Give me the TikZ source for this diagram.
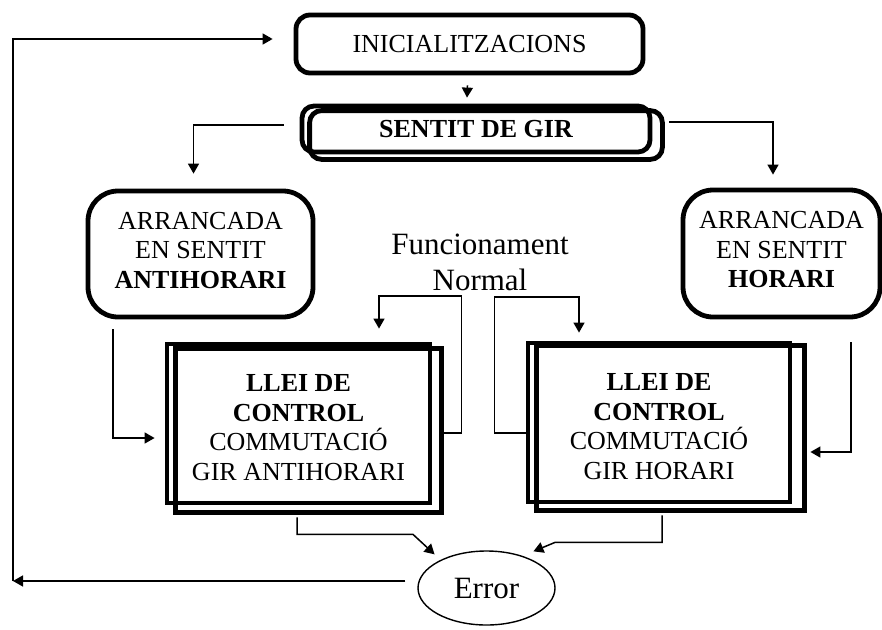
\documentclass[tikz,border=0pt]{standalone}
\usepackage{fontspec}
\setmainfont{Liberation Serif}
\usetikzlibrary{positioning}
\usetikzlibrary{calc}
\usetikzlibrary{arrows.meta}
\usetikzlibrary{shapes.geometric}

\tikzset{
  rbox/.style={draw, line width=4.8pt, rounded corners=#1, inner sep=0pt, align=center, font=\fontsize{26}{29.5}\selectfont},
  rbox/.default=14pt,
  lbox/.style={draw, line width=4.8pt, inner sep=0pt, align=center, font=\fontsize{26}{29.5}\selectfont},
  flow/.style={line width=1.5pt, -{Triangle[length=10pt,width=11pt]}},
}

\begin{document}
\begin{tikzpicture}[x=1pt,y=-1pt]
    \useasboundingbox (0,0) rectangle (882,629);

    \node[rbox, minimum width=347pt, minimum height=58pt] (init) at (469.5,44) {INICIALITZACIONS};
    \node[rbox=12pt, minimum width=348pt, minimum height=46pt, font=\bfseries\fontsize{26}{29.5}\selectfont] (sentit) at (476,129) {SENTIT DE GIR};
    \draw[line width=4.8pt, rounded corners=12pt] ([shift={(10pt,-7pt)}]sentit.north west) rectangle ([shift={(10pt,-5pt)}]sentit.south east);

    \node[rbox=30pt, minimum width=225pt, minimum height=126pt] (arrL) at (200.5,254) {ARRANCADA\\EN SENTIT\\\textbf{ANTIHORARI}\\[-21.5pt]};
    \node[rbox=30pt, minimum width=197pt, minimum height=127pt] (arrR) at (781.5,253.5) {ARRANCADA\\EN SENTIT\\\textbf{HORARI}\\[-21.5pt]};

    \node[align=center, font=\fontsize{31}{36}\selectfont] (normal) at (480,262) {Funcionament\\Normal};

    \node[lbox, minimum width=263pt, minimum height=159pt] (lleiL) at (298.5,423.5) {\\[-4pt]\textbf{LLEI DE}\\\textbf{CONTROL}\\COMMUTACIÓ\\GIR ANTIHORARI};
    \draw[line width=4.8pt] ([shift={(11pt,-7pt)}]lleiL.north west) rectangle ([shift={(9pt,-7pt)}]lleiL.south east);
    \node[lbox, minimum width=262pt, minimum height=159pt] (lleiR) at (659,422.5) {\\[-4pt]\textbf{LLEI DE}\\\textbf{CONTROL}\\COMMUTACIÓ\\GIR HORARI};
    \draw[line width=4.8pt] ([shift={(11pt,-5pt)}]lleiR.north west) rectangle ([shift={(12pt,-6pt)}]lleiR.south east);

    \node[draw, ellipse, line width=1.4pt, minimum width=137pt, minimum height=74pt, inner sep=0pt, font=\fontsize{31}{34}\selectfont] (error) at (486.5,588) {Error};

    \coordinate (fbbot) at (13,581);
    \coordinate (fbtop) at (13,39);
    \draw[flow] ([shift={(-12pt,7pt)}]error.west) -- (fbbot);
    \draw[flow] (fbbot) -- (fbtop) -- ([shift={(-21pt,5pt)}]init.west);

    \draw[flow] ([shift={(-2pt,-10pt)}]init.south) -- ([shift={(-9pt,6pt)}]sentit.north);
    \draw[flow] ([shift={(-16pt,4pt)}]sentit.west) -| ([shift={(-7pt,15pt)}]arrL.north);
    \draw[flow] ([shift={(17pt,7pt)}]sentit.east) -| ([shift={(-8.5pt,13pt)}]arrR.north);

    \draw[flow] ([shift={(-87.5pt,-10pt)}]arrL.south) |- ([shift={(-10pt,-14.5pt)}]lleiL.west);
    \draw[flow] ([shift={(69.5pt,-23pt)}]arrR.south) |- ([shift={(18pt,-29.5pt)}]lleiR.east);

    \draw[flow] ([shift={(9pt,-9.5pt)}]lleiL.east) -- ++(20,0) -- ++(0,-137) -| ([shift={(80.5pt,13pt)}]lleiL.north);
    \draw[flow] ([yshift=-10.5pt]lleiR.west) -- ++(-31,0) -- ++(0,-136) -| ([shift={(-80pt,8pt)}]lleiR.north);

    \draw[flow] ([shift={(-1.5pt,-12pt)}]lleiL.south) -- ++(0,17) -- ++(116,0) -- ([shift={(-3pt,7pt)}]error.north west);
    \draw[flow] ([shift={(3pt,-11pt)}]lleiR.south) -- ++(0,27) -- ++(-107,0) -- ([shift={(-2pt,10pt)}]error.north east);
\end{tikzpicture}
\end{document}
